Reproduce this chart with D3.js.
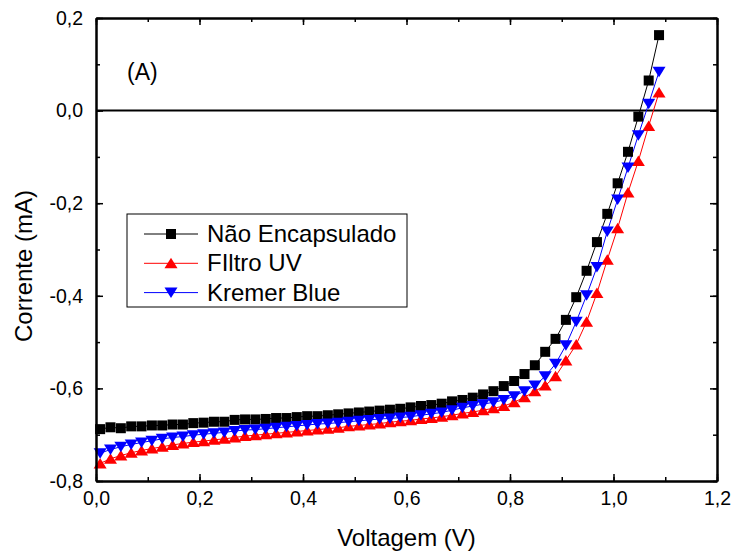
<!DOCTYPE html>
<html>
<head>
<meta charset="utf-8">
<script src="https://cdn.jsdelivr.net/npm/d3@7"></script>
<style>
  html, body { margin: 0; padding: 0; background: #fff; }
  svg { display: block; font-family: "Liberation Sans", Arial, sans-serif; }
</style>
</head>
<body>
<svg id="chart" width="735" height="551"></svg>
<script>
const voltage = [0.008,0.028,0.048,0.068,0.088,0.108,0.128,0.148,0.168,0.188,
  0.208,0.228,0.248,0.268,0.288,0.308,0.328,0.348,0.368,0.388,
  0.408,0.428,0.448,0.468,0.488,0.508,0.528,0.548,0.568,0.588,
  0.608,0.628,0.648,0.668,0.688,0.708,0.728,0.748,0.768,0.788,
  0.808,0.828,0.848,0.868,0.888,0.908,0.928,0.948,0.968,0.988,
  1.008,1.028,1.048,1.068,1.088];

const naoEncapsulado = [-0.688,-0.684,-0.686,-0.682,-0.682,-0.680,-0.680,-0.678,-0.678,-0.675,
  -0.674,-0.672,-0.672,-0.668,-0.667,-0.667,-0.666,-0.664,-0.664,-0.662,
  -0.660,-0.660,-0.658,-0.656,-0.654,-0.652,-0.650,-0.648,-0.646,-0.644,
  -0.641,-0.638,-0.636,-0.633,-0.628,-0.625,-0.620,-0.613,-0.606,-0.595,
  -0.584,-0.569,-0.550,-0.521,-0.493,-0.452,-0.403,-0.346,-0.284,-0.223,
  -0.157,-0.089,-0.013,0.065,0.163];

const filtroUV = [-0.762,-0.752,-0.745,-0.739,-0.734,-0.730,-0.726,-0.722,-0.719,-0.716,
  -0.714,-0.711,-0.709,-0.706,-0.703,-0.701,-0.699,-0.697,-0.695,-0.693,
  -0.691,-0.689,-0.687,-0.685,-0.682,-0.680,-0.678,-0.676,-0.673,-0.671,
  -0.669,-0.666,-0.664,-0.661,-0.658,-0.654,-0.651,-0.647,-0.643,-0.638,
  -0.630,-0.619,-0.606,-0.594,-0.574,-0.540,-0.505,-0.456,-0.394,-0.322,
  -0.254,-0.177,-0.109,-0.033,0.039];

const kremerBlue = [-0.740,-0.732,-0.726,-0.721,-0.717,-0.713,-0.709,-0.706,-0.704,-0.701,
  -0.699,-0.697,-0.695,-0.692,-0.690,-0.689,-0.687,-0.685,-0.683,-0.681,
  -0.679,-0.677,-0.676,-0.674,-0.672,-0.670,-0.668,-0.666,-0.665,-0.663,
  -0.661,-0.658,-0.655,-0.652,-0.647,-0.642,-0.638,-0.634,-0.630,-0.625,
  -0.617,-0.606,-0.594,-0.574,-0.547,-0.507,-0.456,-0.399,-0.338,-0.261,
  -0.192,-0.123,-0.053,0.015,0.084];

const seriesNames = ["Não Encapsulado", "FIltro UV", "Kremer Blue"];
const seriesColors = ["#000000", "#ff0000", "#0000ff"];
const seriesSymbols = ["square", "up", "down"];
const xTicks = [0.0, 0.2, 0.4, 0.6, 0.8, 1.0, 1.2];
const yTicks = [0.2, 0.0, -0.2, -0.4, -0.6, -0.8];
const xLabel = "Voltagem (V)";
const yLabel = "Corrente (mA)";
const panelLabel = "(A)";

const FONT = "'Liberation Sans', Arial, sans-serif";
const svg = d3.select("#chart");
const L = 96, R = 717, T = 18, B = 481;
const x = d3.scaleLinear().domain([0, 1.2]).range([L, R]);
const y = d3.scaleLinear().domain([-0.8, 0.2]).range([B, T]);
const fmt = v => d3.format(".1f")(v).replace(".", ",").replace("−", "-");

const series = [naoEncapsulado, filtroUV, kremerBlue].map((vals, i) => ({
  name: seriesNames[i], color: seriesColors[i], symbol: seriesSymbols[i],
  points: vals.map((v, j) => ({ x: voltage[j], y: v }))
}));

svg.append("line").attr("x1", x(0)).attr("x2", x(1.2)).attr("y1", y(0)).attr("y2", y(0))
  .attr("stroke", "#000").attr("stroke-width", 2);

function marker(sel, symbol, color) {
  if (symbol === "square") {
    sel.append("rect").attr("x", -5).attr("y", -5).attr("width", 10).attr("height", 10)
      .attr("fill", color);
  } else if (symbol === "up") {
    sel.append("path").attr("d", "M0,-5.5L6.5,5L-6.5,5Z").attr("fill", color);
  } else {
    sel.append("path").attr("d", "M0,5.5L6.5,-5L-6.5,-5Z").attr("fill", color);
  }
}

const line = d3.line().x(d => x(d.x)).y(d => y(d.y));
series.forEach(s => {
  svg.append("path").datum(s.points).attr("d", line)
    .attr("fill", "none").attr("stroke", s.color).attr("stroke-width", 1);
});
series.forEach(s => {
  const g = svg.append("g");
  g.selectAll("g").data(s.points).join("g")
    .attr("transform", d => `translate(${x(d.x)},${y(d.y)})`)
    .each(function() { marker(d3.select(this), s.symbol, s.color); });
});

const xMinor = d3.range(0, 1.2001, 0.1);
const yMinor = d3.range(-0.8, 0.2001, 0.1);
function axisStyle(g) {
  g.select(".domain").attr("stroke-width", 2);
  g.selectAll(".tick line").attr("stroke-width", 1.5);
  g.selectAll("text").attr("font-size", 19.5).attr("fill", "#000").attr("font-family", FONT);
}
svg.append("g").attr("transform", `translate(0,${B})`)
  .call(d3.axisBottom(x).tickValues(xMinor).tickSize(-4).tickFormat("").tickSizeOuter(0))
  .call(axisStyle);
svg.append("g").attr("transform", `translate(0,${B})`)
  .call(d3.axisBottom(x).tickValues(xTicks).tickSize(-7).tickPadding(10).tickFormat(fmt).tickSizeOuter(0))
  .call(axisStyle);
svg.append("g").attr("transform", `translate(0,${T})`)
  .call(d3.axisTop(x).tickValues(xMinor).tickSize(-4).tickFormat("").tickSizeOuter(0)).call(axisStyle);
svg.append("g").attr("transform", `translate(0,${T})`)
  .call(d3.axisTop(x).tickValues(xTicks).tickSize(-7).tickFormat("").tickSizeOuter(0)).call(axisStyle);
svg.append("g").attr("transform", `translate(${L},0)`)
  .call(d3.axisLeft(y).tickValues(yMinor).tickSize(-4).tickFormat("").tickSizeOuter(0)).call(axisStyle);
svg.append("g").attr("transform", `translate(${L},0)`)
  .call(d3.axisLeft(y).tickValues(yTicks).tickSize(-7).tickPadding(13).tickFormat(fmt).tickSizeOuter(0))
  .call(axisStyle);
svg.append("g").attr("transform", `translate(${R},0)`)
  .call(d3.axisRight(y).tickValues(yMinor).tickSize(-4).tickFormat("").tickSizeOuter(0)).call(axisStyle);
svg.append("g").attr("transform", `translate(${R},0)`)
  .call(d3.axisRight(y).tickValues(yTicks).tickSize(-7).tickFormat("").tickSizeOuter(0)).call(axisStyle);

svg.append("text").attr("x", (L + R) / 2).attr("y", 546).attr("text-anchor", "middle")
  .attr("font-family", FONT).attr("font-size", 24).text(xLabel);
svg.append("text").attr("transform", `translate(32,266) rotate(-90)`)
  .attr("text-anchor", "middle").attr("font-family", FONT).attr("font-size", 24).text(yLabel);

svg.append("text").attr("x", 127).attr("y", 80).attr("font-family", FONT).attr("font-size", 23).text(panelLabel);

const lg = svg.append("g");
lg.append("rect").attr("x", 127).attr("y", 214).attr("width", 280).attr("height", 93)
  .attr("fill", "#fff").attr("stroke", "#000").attr("stroke-width", 1);
series.forEach((s, i) => {
  const cy = 234 + i * 29.3;
  lg.append("line").attr("x1", 144).attr("x2", 198).attr("y1", cy).attr("y2", cy)
    .attr("stroke", s.color).attr("stroke-width", 1);
  const m = lg.append("g").attr("transform", `translate(171,${cy})`);
  marker(m, s.symbol, s.color);
  lg.append("text").attr("x", 207).attr("y", cy + 8).attr("font-family", FONT).attr("font-size", 24).text(s.name);
});
</script>
</body>
</html>
